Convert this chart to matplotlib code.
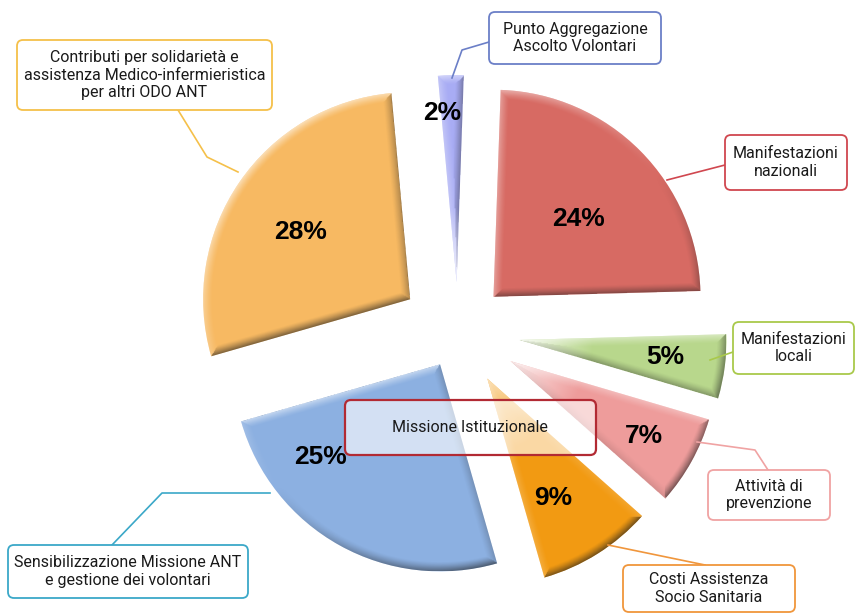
import numpy as np
import matplotlib
matplotlib.use("Agg")
import matplotlib.pyplot as plt
from matplotlib.patches import FancyBboxPatch

# data (clockwise from the top)
categories = ["Manifestazioni\nnazionali", "Manifestazioni\nlocali", "Attività di\nprevenzione",
              "Costi Assistenza\nSocio Sanitaria", "Sensibilizzazione Missione ANT\ne gestione dei volontari",
              "Contributi per solidarietà e\nassistenza Medico-infermieristica\nper altri ODO ANT",
              "Punto Aggregazione\nAscolto Volontari"]
shares = [24, 5, 7, 9, 25, 28, 2]
pct_labels = ["24%", "5%", "7%", "9%", "25%", "28%", "2%"]
center_label = "Missione Istituzionale"

# styling / layout
colors = ["#D76A63", "#B8D78C", "#EE9C9B", "#F29A12", "#8CB0E1", "#F7B962", "#A8ACF4"]
box_edges = ["#D0474F", "#A9C94B", "#F0A3A3", "#F0963C", "#3BA8C8", "#F5C04A", "#6B7FC7"]
explode = [50, 62, 60, 55, 37, 58, 50]
lab_frac = [0.556, 0.71, 0.74, 0.66, 0.73, 0.62, 0.82]
lab_dang = [-2.3, 0.7, -0.3, -3.2, -23, 3, 3.2]
W, H = 855, 614
# callout boxes in pixel coords (left, top, right, bottom)
boxes = [(725, 135, 847, 190), (733, 322, 854, 374), (708, 470, 830, 520),
         (623, 565, 795, 612), (8, 545, 248, 598), (17, 40, 272, 110), (489, 12, 661, 64)]
leaders = [[(667, 180), (725, 165)],
           [(710, 360), (733, 352)],
           [(697, 442), (755, 450), (768, 470)],
           [(608, 545), (705, 565)],
           [(270, 493), (162, 493), (112, 545)],
           [(238, 172), (207, 157), (178, 110)],
           [(452, 78), (462, 50), (489, 42)]]

txt_font = ["Roboto", "DejaVu Sans"]


def px(x, y):
    return x, H - y


def shade(ax, w, light=(-0.6, 0.8), bevel=9, n=500):
    cx, cy = w.center
    r = w.r
    t1, t2 = np.radians(w.theta1), np.radians(w.theta2)
    span = t2 - t1
    xs = np.linspace(cx - r, cx + r, n)
    ys = np.linspace(cy - r, cy + r, n)
    X, Y = np.meshgrid(xs, ys)
    dx, dy = X - cx, Y - cy
    d = np.hypot(dx, dy)
    ang = np.arctan2(dy, dx)
    phi = np.mod(ang - t1, 2 * np.pi)
    d_arc = r - d
    d_e1 = np.where(phi < np.pi / 2, d * np.sin(phi), d)
    d_e2 = np.where(span - phi < np.pi / 2, d * np.sin(np.clip(span - phi, 0, None)), d)
    st = np.stack([d_arc, d_e1, d_e2])
    k = np.argmin(st, axis=0)
    dist = np.min(st, axis=0)
    nx = np.choose(k, [np.cos(ang), np.full_like(d, np.sin(t1)), np.full_like(d, -np.sin(t2))])
    ny = np.choose(k, [np.sin(ang), np.full_like(d, -np.cos(t1)), np.full_like(d, np.cos(t2))])
    lit = nx * light[0] + ny * light[1]
    edge = np.clip(1 - dist / bevel, 0, 1) ** 1.3
    rgba = np.zeros((n, n, 4))
    pos = lit > 0
    rgba[..., :3] = np.where(pos[..., None], 1.0, 0.12)
    rgba[..., 3] = np.where(pos, 0.55 * lit, 0.6 * (-lit)) * edge
    im = ax.imshow(rgba, extent=(cx - r, cx + r, cy - r, cy + r), origin="lower",
                   interpolation="bilinear", zorder=2)
    im.set_clip_path(w)
    # narrow tips fade to white
    strength = 0.8 * np.clip((0.9 - span) / 0.4, 0, 1)
    tip = np.zeros((n, n, 4))
    tip[..., :3] = 1.0
    tip[..., 3] = strength * np.clip(1 - d / 75, 0, 1)
    im2 = ax.imshow(tip, extent=(cx - r, cx + r, cy - r, cy + r), origin="lower",
                    interpolation="bilinear", zorder=2)
    im2.set_clip_path(w)


fig = plt.figure(figsize=(W / 100, H / 100), dpi=100)
ax = fig.add_axes([0, 0, 1, 1])

wedges, _ = ax.pie(shares, explode=explode, colors=colors, center=(458, 282), radius=207,
                   startangle=88, counterclock=False, wedgeprops=dict(linewidth=0, zorder=1))

for i, w in enumerate(wedges):
    shade(ax, w)
    tm = np.radians((w.theta1 + w.theta2) / 2 + lab_dang[i])
    cx, cy = w.center
    rr = lab_frac[i] * w.r
    ax.text(cx + rr * np.cos(tm), cy + rr * np.sin(tm), pct_labels[i], ha="center", va="center",
            fontsize=19, fontweight="bold", family="Liberation Sans", color="black", zorder=6)

for i, cat in enumerate(categories):
    x0, y0, x1, y1 = boxes[i]
    pts = [px(*p) for p in leaders[i]]
    ax.plot([p[0] for p in pts], [p[1] for p in pts], color=box_edges[i], lw=1.2, zorder=4)
    ax.add_patch(FancyBboxPatch(px(x0, y1), x1 - x0, y1 - y0, boxstyle="round,pad=0,rounding_size=6",
                                facecolor="white", edgecolor=box_edges[i], lw=1.3, zorder=5))
    ax.text(*px((x0 + x1) / 2, (y0 + y1) / 2), cat, ha="center", va="center", fontsize=11.5,
            family=txt_font, color="#1a1a1a", linespacing=1.2, zorder=6)

# central caption box
ax.add_patch(FancyBboxPatch(px(345, 455), 251, 55, boxstyle="round,pad=0,rounding_size=6",
                            facecolor=(1, 1, 1, 0.62), edgecolor="#B22A33", lw=1.6, zorder=5))
ax.text(*px(470, 427), center_label, ha="center", va="center", fontsize=11.5,
        family=txt_font, color="#1a1a1a", zorder=6)

ax.set_xlim(0, W)
ax.set_ylim(0, H)
ax.set_aspect("equal")
ax.axis("off")
fig.savefig("out.png", dpi=100)
